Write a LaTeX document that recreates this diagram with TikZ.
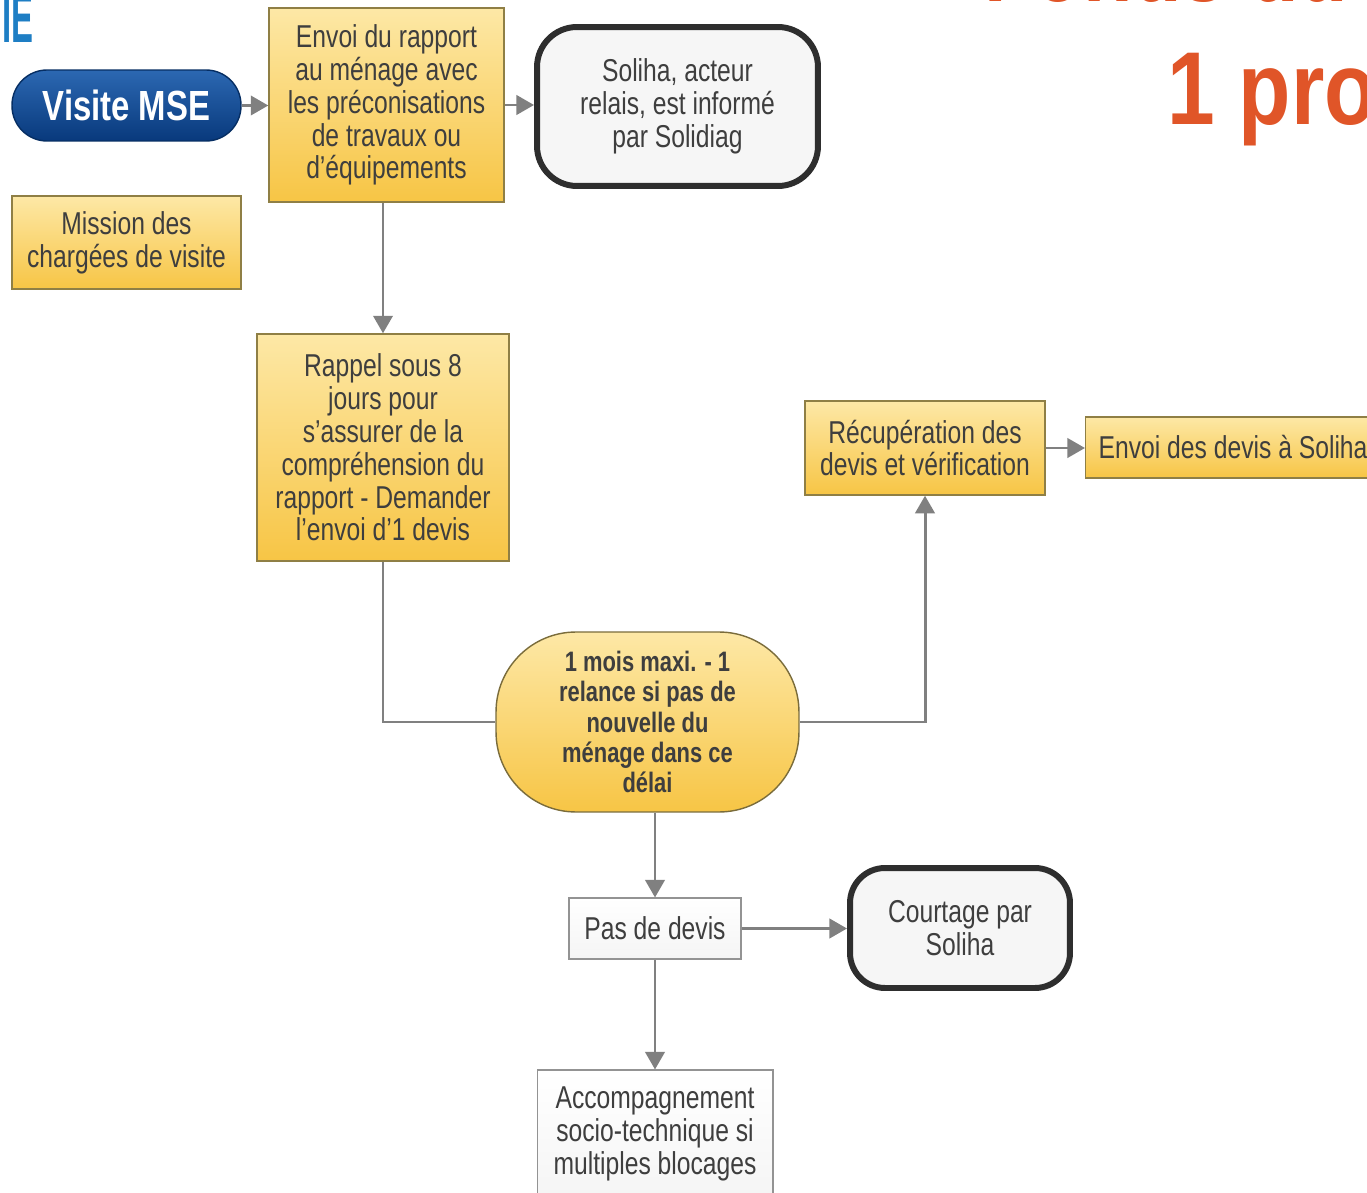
\documentclass[tikz,border=0pt]{standalone}
\usepackage{fontspec}
\setmainfont{Liberation Sans}[FakeStretch=0.78]
\usetikzlibrary{arrows.meta}
\definecolor{jaune1}{HTML}{FDE8A6}
\definecolor{jaune2}{HTML}{F7C545}
\definecolor{bordjaune}{HTML}{8F7F45}
\definecolor{bleu1}{HTML}{2C68B2}
\definecolor{bleu2}{HTML}{08397C}
\definecolor{grisfleche}{HTML}{808080}
\definecolor{texte}{HTML}{3E3E3E}
\definecolor{orangetitre}{HTML}{E05528}
\definecolor{bleutitre}{HTML}{1E7EC4}

\begin{document}
\begin{tikzpicture}[
		x=0.02cm, y=-0.02cm,
		every node/.style={inner sep=0pt, align=center, text=texte,
				font=\fontsize{18}{18.7}\selectfont},
		jbox/.style={draw=bordjaune, line width=0.8pt, top color=jaune1, bottom color=jaune2},
		gbox/.style={draw=gray!85, line width=0.6pt, top color=white, bottom color=gray!8},
		sbox/.style={draw=black!82, line width=3.4pt, rounded corners=0.8cm, fill=gray!7},
		fleche/.style={draw=grisfleche, line width=1.7pt, -{Triangle[length=10pt,width=11pt]}},
		lien/.style={draw=grisfleche, line width=1.7pt}
	]
	\useasboundingbox (0,0) rectangle (1367,1193);
	\clip (0,0) rectangle (1367,1193);

	% titres coupes
	\node[anchor=base east, text=bleutitre, font=\fontsize{40}{40}\bfseries] (ie) at (34,43) {\scalebox{0.6}[1]{IE}};
	\node[anchor=base west, text=orangetitre, font=\fontsize{59}{60}\bfseries] (titre1) at (984,1.5) {Fonds du};
	\node[anchor=base west, text=orangetitre, font=\fontsize{59}{60}\bfseries] (titre2) at (1167,125) {\scalebox{1.06}[1]{1 pro}};

	% boites
	\node[draw=bleu2!80!black, line width=0.8pt, rounded corners=0.7cm, top color=bleu1, bottom color=bleu2,
		minimum width=4.58cm, minimum height=1.42cm, text=white, font=\fontsize{24}{24}\bfseries] (visite) at (126.5,105.5) {Visite MSE};
	\node[jbox, minimum width=4.7cm, minimum height=3.88cm] (envoi) at (386.5,105)
		{Envoi du rapport\\au ménage avec\\les préconisations\\de travaux ou\\d'équipements};
	\node[sbox, minimum width=5.62cm, minimum height=3.18cm] (soliha) at (677.5,106.5)
		{Soliha, acteur\\relais, est informé\\par Solidiag};
	\node[jbox, minimum width=4.58cm, minimum height=1.86cm] (mission) at (126.5,242.5)
		{Mission des\\chargées de visite};
	\node[jbox, minimum width=5.04cm, minimum height=4.54cm] (rappel) at (383,447.5)
		{Rappel sous 8\\jours pour\\s'assurer de la\\compréhension du\\rapport - Demander\\l'envoi d'1 devis};
	\node[jbox, minimum width=4.8cm, minimum height=1.88cm] (recup) at (925,448)
		{Récupération des\\devis et vérification};
	\node[jbox, anchor=west, minimum width=6.3cm, minimum height=1.22cm, text width=5.78cm, align=flush left] (envoidevis) at (1085,447.5)
		{Envoi des devis à Soliha};
	\node[jbox, draw=bordjaune!85!black, rounded corners=1.6cm, minimum width=6.06cm, minimum height=3.6cm,
		font=\fontsize{16}{17.3}\bfseries] (delai) at (647.5,722)
		{1 mois maxi. - 1\\relance si pas de\\nouvelle du\\ménage dans ce\\délai};
	\node[gbox, minimum width=3.44cm, minimum height=1.22cm] (pasdevis) at (655,928.5) {Pas de devis};
	\node[sbox, rounded corners=0.7cm, minimum width=4.4cm, minimum height=2.4cm] (courtage) at (960,928)
		{Courtage par\\Soliha};
	\node[gbox, minimum width=4.72cm, minimum height=2.56cm] (accomp) at (655,1134)
		{Accompagnement\\socio-technique si\\multiples blocages};

	% liens
	\draw[fleche] (visite.east) -- (visite.east -| envoi.west);
	\draw[fleche] (envoi.east) -- (envoi.east -| soliha.west);
	\draw[fleche] (rappel.north |- envoi.south) -- (rappel.north);
	\draw[lien] (rappel.south) |- (delai.west);
	\draw[fleche] (delai.east) -| (recup.south);
	\draw[fleche] (recup.east) -- (recup.east -| envoidevis.west);
	\draw[fleche] (pasdevis.north |- delai.south) -- (pasdevis.north);
	\draw[fleche] (pasdevis.east) -- (pasdevis.east -| courtage.west);
	\draw[fleche] (pasdevis.south) -- (accomp.north);
\end{tikzpicture}
\end{document}
